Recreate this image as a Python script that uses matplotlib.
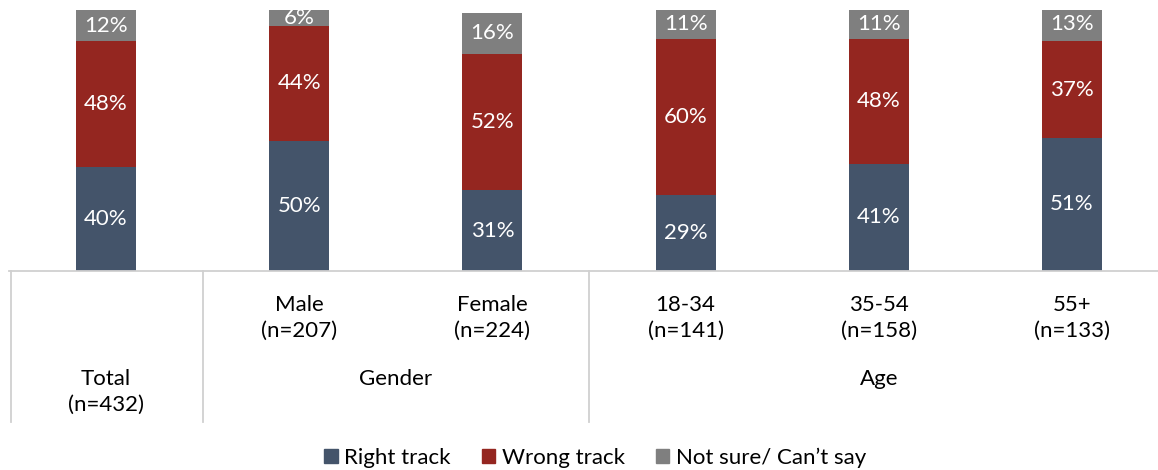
import matplotlib.pyplot as plt
from matplotlib.patches import Patch
from matplotlib.lines import Line2D
import matplotlib.transforms as mtransforms

plt.rcParams['font.family'] = ['Lato', 'DejaVu Sans']

# data
groups = ["Total\n(n=432)", "Male\n(n=207)", "Female\n(n=224)",
          "18-34\n(n=141)", "35-54\n(n=158)", "55+\n(n=133)"]
right_track = [40, 50, 31, 29, 41, 51]
wrong_track = [48, 44, 52, 60, 48, 37]
not_sure = [12, 6, 16, 11, 11, 13]
series_names = ["Right track", "Wrong track", "Not sure/ Can\u2019t say"]
colors = ["#44546A", "#942620", "#7F7F7F"]
sections = ["Gender", "Age"]
section_centers = [1.5, 4]
separators = [-0.49, 0.5, 2.5]

fs = 16

fig = plt.figure(figsize=(11.58, 4.70), dpi=100)
ax = fig.add_axes([9 / 1158, 1 - 271 / 470, 1 - 9 / 1158, 261 / 470])

x = list(range(len(groups)))
bottom = [0] * len(groups)
for vals, col in zip([right_track, wrong_track, not_sure], colors):
    ax.bar(x, vals, width=0.31, bottom=bottom, color=col, zorder=2)
    for xi, b, v in zip(x, bottom, vals):
        ax.text(xi, b + v / 2, f"{v}%", ha='center', va='center',
                color='white', fontsize=fs, zorder=3)
    bottom = [b + v for b, v in zip(bottom, vals)]

ax.set_xlim(-0.502, 5.445)
ax.set_ylim(0, 100)
ax.set_xticks([])
ax.set_yticks([])
for s in ["top", "right", "left"]:
    ax.spines[s].set_visible(False)
ax.spines["bottom"].set_color("#D0D0D0")
ax.spines["bottom"].set_linewidth(1.3)

# category table below the bars
trans = mtransforms.blended_transform_factory(ax.transData, fig.transFigure)
y_top = 1 - 271 / 470
y_bot = 1 - 422 / 470
for sx in separators:
    fig.add_artist(Line2D([sx, sx], [y_top, y_bot], transform=trans,
                          color="#D0D0D0", lw=1.3, zorder=5))

ax.text(0, 1 - 392 / 470, groups[0], transform=trans, ha='center',
        va='center', fontsize=fs, linespacing=1.4)
for xi in x[1:]:
    ax.text(xi, 1 - 318 / 470, groups[xi], transform=trans, ha='center',
            va='center', fontsize=fs, linespacing=1.4)
for name, cx in zip(sections, section_centers):
    ax.text(cx, 1 - 379 / 470, name, transform=trans, ha='center',
            va='center', fontsize=fs)

handles = [Patch(color=c, label=n) for c, n in zip(colors, series_names)]
fig.legend(handles=handles, loc='center', bbox_to_anchor=(0.514, 1 - 458 / 470),
           ncol=3, frameon=False, fontsize=fs, handlelength=0.6,
           handleheight=0.6, handletextpad=0.3, columnspacing=1.4)

fig.savefig("out.png", dpi=100)
